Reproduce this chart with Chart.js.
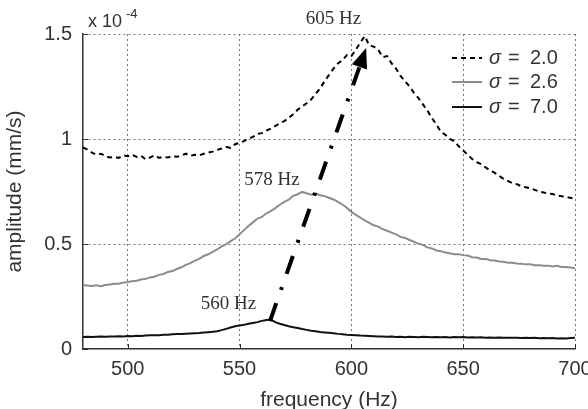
<!DOCTYPE html>
<html>
<head>
<meta charset="utf-8">
<script src="https://cdn.jsdelivr.net/npm/chart.js@4/dist/chart.umd.min.js"></script>
<style>
  body { margin: 0; background: #fff; }
  canvas { display: block; }
</style>
</head>
<body>
<canvas id="myChart" width="588" height="409"></canvas>
<script>
// frequency axis (Hz)
var freqs = [
  480,482,484,486,488,490,492,494,496,498,
  500,502,504,506,508,510,512,514,516,518,
  520,522,524,526,528,530,532,534,536,538,
  540,542,544,546,548,550,552,554,556,558,
  560,562,564,566,568,570,572,574,576,578,
  580,582,584,586,588,590,592,594,596,598,
  600,602,604,606,608,610,612,614,616,618,
  620,622,624,626,628,630,632,634,636,638,
  640,642,644,646,648,650,652,654,656,658,
  660,662,664,666,668,670,672,674,676,678,
  680,682,684,686,688,690,692,694,696,698,
  700
];
// amplitude, x 10^-4 mm/s
var sigma20 = [
  0.960,0.950,0.935,0.925,0.930,0.918,0.912,0.915,0.910,0.922,
  0.918,0.925,0.915,0.920,0.903,0.912,0.922,0.910,0.915,0.912,
  0.918,0.915,0.922,0.930,0.920,0.925,0.922,0.930,0.935,0.940,
  0.948,0.955,0.962,0.958,0.975,0.982,0.990,1.002,1.010,1.025,
  1.028,1.040,1.050,1.062,1.075,1.085,1.100,1.118,1.140,1.155,
  1.170,1.188,1.215,1.240,1.275,1.305,1.335,1.360,1.375,1.400,
  1.395,1.425,1.460,1.490,1.445,1.440,1.425,1.390,1.395,1.360,
  1.335,1.300,1.275,1.250,1.220,1.195,1.165,1.135,1.100,1.070,
  1.035,1.020,1.000,0.990,0.965,0.945,0.925,0.905,0.890,0.880,
  0.865,0.850,0.840,0.825,0.810,0.800,0.790,0.785,0.775,0.770,
  0.765,0.758,0.750,0.745,0.740,0.738,0.730,0.728,0.722,0.720,
  0.715
];
var sigma26 = [
  0.305,0.302,0.300,0.304,0.299,0.305,0.307,0.311,0.311,0.316,
  0.319,0.323,0.325,0.331,0.334,0.341,0.344,0.353,0.357,0.367,
  0.371,0.381,0.389,0.401,0.409,0.421,0.429,0.443,0.451,0.463,
  0.474,0.489,0.499,0.514,0.526,0.546,0.566,0.586,0.603,0.621,
  0.629,0.646,0.657,0.671,0.687,0.701,0.711,0.729,0.737,0.748,
  0.742,0.735,0.740,0.732,0.728,0.720,0.712,0.701,0.688,0.672,
  0.653,0.639,0.626,0.612,0.601,0.589,0.583,0.571,0.563,0.554,
  0.546,0.534,0.529,0.519,0.511,0.501,0.496,0.484,0.479,0.469,
  0.466,0.459,0.456,0.451,0.451,0.447,0.445,0.437,0.436,0.429,
  0.429,0.423,0.421,0.417,0.415,0.411,0.411,0.407,0.406,0.403,
  0.403,0.399,0.399,0.397,0.397,0.393,0.396,0.391,0.391,0.388,
  0.385
];
var sigma70 = [
  0.057,0.058,0.057,0.058,0.059,0.058,0.060,0.059,0.061,0.060,
  0.062,0.061,0.063,0.062,0.064,0.065,0.066,0.066,0.068,0.068,
  0.070,0.071,0.072,0.073,0.074,0.075,0.076,0.078,0.080,0.082,
  0.085,0.090,0.096,0.102,0.108,0.112,0.115,0.120,0.124,0.128,
  0.134,0.138,0.140,0.128,0.120,0.114,0.108,0.104,0.100,0.095,
  0.091,0.087,0.084,0.081,0.079,0.077,0.075,0.072,0.070,0.068,
  0.067,0.066,0.064,0.063,0.062,0.061,0.060,0.060,0.058,0.059,
  0.057,0.058,0.056,0.058,0.057,0.056,0.058,0.057,0.056,0.057,
  0.056,0.057,0.055,0.057,0.056,0.057,0.055,0.056,0.055,0.056,
  0.054,0.055,0.054,0.055,0.053,0.054,0.053,0.054,0.052,0.053,
  0.052,0.053,0.051,0.052,0.051,0.052,0.050,0.051,0.050,0.052,
  0.054
];
var sigmaLabels = ['2.0', '2.6', '7.0'];
var xTicks = [500, 550, 600, 650, 700];
var yTicks = [0, 0.5, 1, 1.5];
var yTickLabels = ['0', '0.5', '1', '1.5'];
// peak labels [freq, amplitude, text]
var peakLabels = [[592, 1.57, '605 Hz'], [564.5, 0.805, '578 Hz'], [545, 0.215, '560 Hz']];
// arrow from 560 Hz peak to 605 Hz peak
var arrowFrom = [563.6, 0.133];
var arrowTo = [606.6, 1.433];

function pts(vals) {
    var out = [];
    for (var i = 0; i < freqs.length; i++) out.push({x: freqs[i], y: vals[i]});
    return out;
}

var SANS = '"Liberation Sans", Arial, sans-serif';
var SERIF = '"Liberation Serif", "Times New Roman", serif';

var overlay = {
    id: 'overlay',
    afterDraw: function (chart) {
        var ctx = chart.ctx, a = chart.chartArea, xs = chart.scales.x, ys = chart.scales.y;
        ctx.save();
        // inward tick marks
        ctx.strokeStyle = '#333';
        ctx.lineWidth = 1;
        ctx.beginPath();
        xTicks.forEach(function (v) {
            var px = Math.round(xs.getPixelForValue(v)) + 0.5;
            ctx.moveTo(px, a.bottom); ctx.lineTo(px, a.bottom - 5);
        });
        yTicks.forEach(function (v) {
            var py = Math.round(ys.getPixelForValue(v)) + 0.5;
            ctx.moveTo(a.left, py); ctx.lineTo(a.left + 5, py);
        });
        ctx.stroke();

        // dash-dot arrow
        var x0 = xs.getPixelForValue(arrowFrom[0]), y0 = ys.getPixelForValue(arrowFrom[1]);
        var x1 = xs.getPixelForValue(arrowTo[0]), y1 = ys.getPixelForValue(arrowTo[1]);
        var dx = x1 - x0, dy = y1 - y0, len = Math.sqrt(dx * dx + dy * dy);
        var ux = dx / len, uy = dy / len;
        var hl = 20, hw = 8;
        var bx = x1 - ux * hl, by = y1 - uy * hl;
        ctx.strokeStyle = '#000';
        ctx.lineWidth = 4;
        ctx.lineCap = 'butt';
        ctx.setLineDash([19, 14, 3, 14]);
        ctx.beginPath();
        ctx.moveTo(x0, y0); ctx.lineTo(bx, by);
        ctx.stroke();
        ctx.setLineDash([]);
        ctx.fillStyle = '#000';
        ctx.beginPath();
        ctx.moveTo(x1, y1);
        ctx.lineTo(bx - uy * hw, by + ux * hw);
        ctx.lineTo(bx + uy * hw, by - ux * hw);
        ctx.closePath();
        ctx.fill();

        // peak labels
        ctx.fillStyle = '#333';
        ctx.font = '19px ' + SERIF;
        ctx.textAlign = 'center';
        ctx.textBaseline = 'middle';
        peakLabels.forEach(function (p) {
            ctx.fillText(p[2], xs.getPixelForValue(p[0]), ys.getPixelForValue(p[1]));
        });

        // exponent label
        ctx.textAlign = 'left';
        ctx.font = '18px ' + SANS;
        ctx.fillText('x 10', a.left + 5, a.top - 12);
        ctx.font = '13px ' + SANS;
        ctx.fillText('-4', a.left + 43, a.top - 20);

        // legend
        var styles = [
            {c: '#000', dash: [5, 4]},
            {c: '#8c8c8c', dash: []},
            {c: '#111', dash: []}
        ];
        var rows = [a.top + 24, a.top + 48, a.top + 73];
        for (var i = 0; i < 3; i++) {
            var ry = rows[i];
            ctx.strokeStyle = styles[i].c;
            ctx.lineWidth = 2;
            ctx.setLineDash(styles[i].dash);
            ctx.beginPath();
            ctx.moveTo(a.right - 123, ry); ctx.lineTo(a.right - 93, ry);
            ctx.stroke();
            ctx.setLineDash([]);
            ctx.fillStyle = '#333';
            ctx.font = 'italic 20px ' + SANS;
            ctx.fillText('\u03c3', a.right - 86, ry);
            ctx.font = '20px ' + SANS;
            ctx.fillText('=', a.right - 67, ry);
            ctx.fillText(sigmaLabels[i], a.right - 45, ry);
        }
        ctx.restore();
    }
};

var ctx = document.getElementById('myChart').getContext('2d');
var myChart = new Chart(ctx, {
    type: 'line',
    data: {
        datasets: [{
            label: '\u03c3 = ' + sigmaLabels[0],
            data: pts(sigma20),
            borderColor: '#000',
            borderWidth: 2,
            borderDash: [5, 4],
            pointRadius: 0,
            tension: 0
        }, {
            label: '\u03c3 = ' + sigmaLabels[1],
            data: pts(sigma26),
            borderColor: '#8c8c8c',
            borderWidth: 2,
            pointRadius: 0,
            tension: 0
        }, {
            label: '\u03c3 = ' + sigmaLabels[2],
            data: pts(sigma70),
            borderColor: '#111',
            borderWidth: 2,
            pointRadius: 0,
            tension: 0
        }]
    },
    options: {
        responsive: false,
        animation: false,
        events: [],
        layout: { padding: { top: 34, right: 13, left: 0, bottom: 0 } },
        plugins: { legend: { display: false }, tooltip: { enabled: false } },
        scales: {
            x: {
                type: 'linear',
                min: 480,
                max: 700,
                afterBuildTicks: function (s) { s.ticks = xTicks.map(function (v) { return {value: v}; }); },
                afterFit: function (s) { s.height = 60; s.paddingLeft = 0; s.paddingRight = 0; },
                grid: { color: '#777', drawTicks: false, tickLength: 0 },
                border: { display: true, color: '#333', width: 1.5, dash: [2, 3] },
                ticks: { color: '#333', padding: 8, maxRotation: 0, font: { family: SANS, size: 20 } },
                title: { display: true, text: 'frequency (Hz)', color: '#333', padding: { top: 0, bottom: -2 }, font: { family: SANS, size: 21, lineHeight: 1 } }
            },
            y: {
                min: 0,
                max: 1.5,
                afterBuildTicks: function (s) { s.ticks = yTicks.map(function (v) { return {value: v}; }); },
                afterFit: function (s) { s.width = 83; s.paddingTop = 0; s.paddingBottom = 0; },
                grid: {
                    color: function (c) { return c.tick && c.tick.value === 0 ? 'rgba(0,0,0,0)' : '#777'; },
                    drawTicks: false, tickLength: 0
                },
                border: { display: true, color: '#333', width: 1.5, dash: [2, 3] },
                ticks: {
                    color: '#333', padding: 11, font: { family: SANS, size: 20 },
                    callback: function (v, i) { return yTickLabels[i]; }
                },
                title: { display: true, text: 'amplitude (mm/s)', color: '#333', padding: { top: 5, bottom: 0 }, font: { family: SANS, size: 21, lineHeight: 1 } }
            }
        }
    },
    plugins: [overlay]
});
</script>
</body>
</html>
